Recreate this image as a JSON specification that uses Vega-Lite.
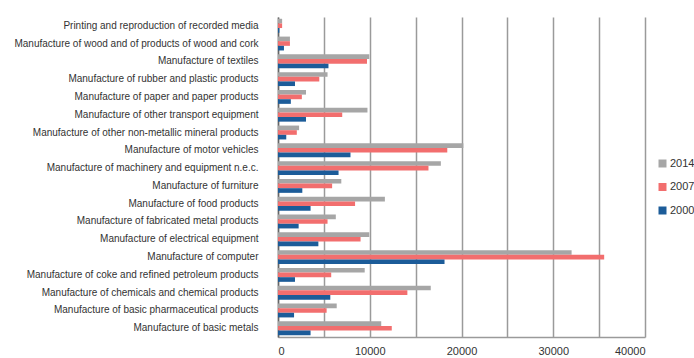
{
  "$schema": "https://vega.github.io/schema/vega-lite/v6.json",
  "width": 367,
  "height": 320,
  "autosize": {"type": "none"},
  "padding": {"left": 278, "top": 17, "right": 49, "bottom": 21},
  "background": "white",
  "config": {"view": {"stroke": null}, "font": "Liberation Sans"},
  "data": {"values": [
    {"sector": "Printing and reproduction of recorded media", "year": "2014", "value": 450},
    {"sector": "Printing and reproduction of recorded media", "year": "2007", "value": 450},
    {"sector": "Printing and reproduction of recorded media", "year": "2000", "value": 150},
    {"sector": "Manufacture of wood and of products of wood and cork", "year": "2014", "value": 1300},
    {"sector": "Manufacture of wood and of products of wood and cork", "year": "2007", "value": 1300},
    {"sector": "Manufacture of wood and of products of wood and cork", "year": "2000", "value": 650},
    {"sector": "Manufacture of textiles", "year": "2014", "value": 9950},
    {"sector": "Manufacture of textiles", "year": "2007", "value": 9700},
    {"sector": "Manufacture of textiles", "year": "2000", "value": 5500},
    {"sector": "Manufacture of rubber and plastic products", "year": "2014", "value": 5400},
    {"sector": "Manufacture of rubber and plastic products", "year": "2007", "value": 4500},
    {"sector": "Manufacture of rubber and plastic products", "year": "2000", "value": 1850},
    {"sector": "Manufacture of paper and paper products", "year": "2014", "value": 3050},
    {"sector": "Manufacture of paper and paper products", "year": "2007", "value": 2600},
    {"sector": "Manufacture of paper and paper products", "year": "2000", "value": 1400},
    {"sector": "Manufacture of other transport equipment", "year": "2014", "value": 9750},
    {"sector": "Manufacture of other transport equipment", "year": "2007", "value": 7000},
    {"sector": "Manufacture of other transport equipment", "year": "2000", "value": 3050},
    {"sector": "Manufacture of other non-metallic mineral products", "year": "2014", "value": 2300},
    {"sector": "Manufacture of other non-metallic mineral products", "year": "2007", "value": 2050},
    {"sector": "Manufacture of other non-metallic mineral products", "year": "2000", "value": 900},
    {"sector": "Manufacture of motor vehicles", "year": "2014", "value": 20200},
    {"sector": "Manufacture of motor vehicles", "year": "2007", "value": 18450},
    {"sector": "Manufacture of motor vehicles", "year": "2000", "value": 7900},
    {"sector": "Manufacture of machinery and equipment n.e.c.", "year": "2014", "value": 17750},
    {"sector": "Manufacture of machinery and equipment n.e.c.", "year": "2007", "value": 16400},
    {"sector": "Manufacture of machinery and equipment n.e.c.", "year": "2000", "value": 6600},
    {"sector": "Manufacture of furniture", "year": "2014", "value": 6900},
    {"sector": "Manufacture of furniture", "year": "2007", "value": 5900},
    {"sector": "Manufacture of furniture", "year": "2000", "value": 2650},
    {"sector": "Manufacture of food products", "year": "2014", "value": 11650},
    {"sector": "Manufacture of food products", "year": "2007", "value": 8400},
    {"sector": "Manufacture of food products", "year": "2000", "value": 3550},
    {"sector": "Manufacture of fabricated metal products", "year": "2014", "value": 6300},
    {"sector": "Manufacture of fabricated metal products", "year": "2007", "value": 5400},
    {"sector": "Manufacture of fabricated metal products", "year": "2000", "value": 2250},
    {"sector": "Manufacture of electrical equipment", "year": "2014", "value": 9950},
    {"sector": "Manufacture of electrical equipment", "year": "2007", "value": 9000},
    {"sector": "Manufacture of electrical equipment", "year": "2000", "value": 4400},
    {"sector": "Manufacture of computer", "year": "2014", "value": 32000},
    {"sector": "Manufacture of computer", "year": "2007", "value": 35550},
    {"sector": "Manufacture of computer", "year": "2000", "value": 18150},
    {"sector": "Manufacture of coke and refined petroleum products", "year": "2014", "value": 9450},
    {"sector": "Manufacture of coke and refined petroleum products", "year": "2007", "value": 5800},
    {"sector": "Manufacture of coke and refined petroleum products", "year": "2000", "value": 1850},
    {"sector": "Manufacture of chemicals and chemical products", "year": "2014", "value": 16650},
    {"sector": "Manufacture of chemicals and chemical products", "year": "2007", "value": 14100},
    {"sector": "Manufacture of chemicals and chemical products", "year": "2000", "value": 5700},
    {"sector": "Manufacture of basic pharmaceutical products", "year": "2014", "value": 6400},
    {"sector": "Manufacture of basic pharmaceutical products", "year": "2007", "value": 5300},
    {"sector": "Manufacture of basic pharmaceutical products", "year": "2000", "value": 1750},
    {"sector": "Manufacture of basic metals", "year": "2014", "value": 11250},
    {"sector": "Manufacture of basic metals", "year": "2007", "value": 12400},
    {"sector": "Manufacture of basic metals", "year": "2000", "value": 3550}
  ]},
  "mark": {"type": "bar"},
  "encoding": {
    "y": {
      "field": "sector", "type": "nominal", "sort": null,
      "scale": {"paddingInner": 0.22, "paddingOuter": 0.1},
      "axis": {
        "title": null, "ticks": false, "labelPadding": 20, "labelFontSize": 10,
        "labelColor": "#333333", "labelLimit": 300, "domainColor": "#666666", "domainWidth": 1.5
      }
    },
    "x": {
      "field": "value", "type": "quantitative",
      "scale": {"domain": [0, 40000], "nice": false},
      "axis": {
        "title": null, "values": [0, 5000, 10000, 15000, 20000, 25000, 30000, 35000, 40000],
        "format": "d", "grid": true, "gridColor": "#9a9a9a", "gridWidth": 1.5,
        "ticks": false, "domainColor": "#9a9a9a", "domainWidth": 1.5,
        "labelFontSize": 11, "labelColor": "#333333", "labelPadding": 8
      }
    },
    "yOffset": {"field": "year", "type": "nominal", "sort": ["2014", "2007", "2000"]},
    "color": {
      "field": "year", "type": "nominal",
      "sort": ["2014", "2007", "2000"],
      "scale": {"domain": ["2014", "2007", "2000"], "range": ["#a6a6a6", "#f26e6e", "#1c5c99"]},
      "legend": {
        "title": null, "orient": "none", "legendX": 379, "legendY": 141,
        "symbolType": "square", "symbolSize": 64, "labelFontSize": 11, "labelColor": "#333333",
        "rowPadding": 11.5, "labelOffset": 2
      }
    }
  }
}
